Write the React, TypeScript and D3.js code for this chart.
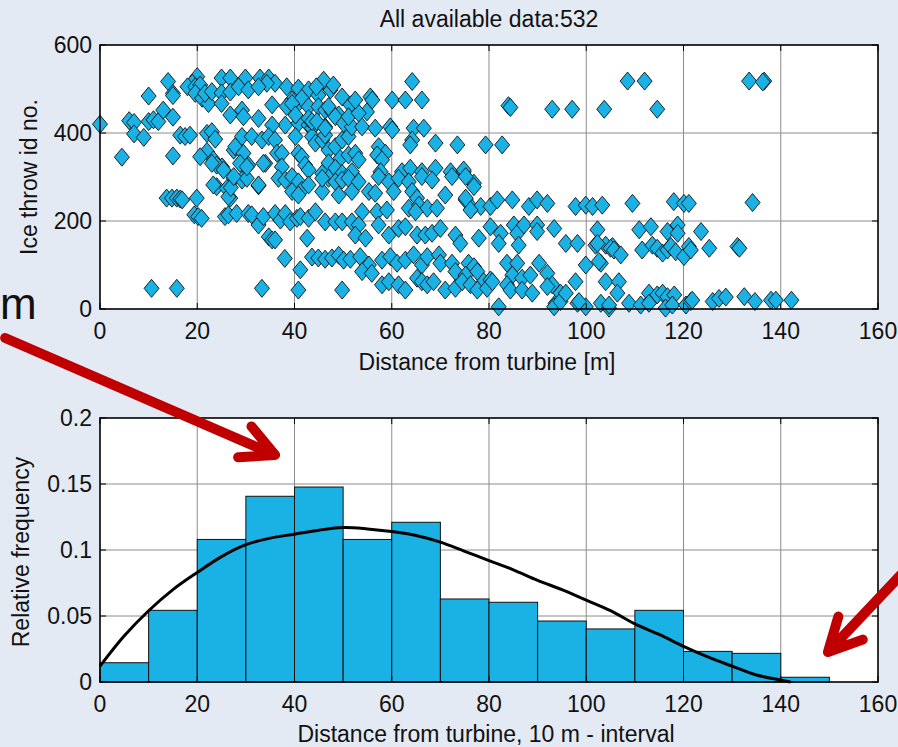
import { useEffect, useRef } from 'react'
import * as d3 from 'd3'

const W = 898
const H = 747
const BG = '#e4eaf3'
const BLUE = '#1ab1e4'
const FONT = '"Liberation Sans", Arial, Helvetica, sans-serif'
const FS = 23

const titleText = 'All available data:532'
const topXLabel = 'Distance from turbine [m]'
const topYLabel = 'Ice throw id no.'
const botXLabel = 'Distance from turbine, 10 m - interval'
const botYLabel = 'Relative frequency'

const distTicks = [0, 20, 40, 60, 80, 100, 120, 140, 160]
const idTicks = [0, 200, 400, 600]
const freqTicks = [0, 0.05, 0.1, 0.15, 0.2]
const freqTickLabels = ['0', '0.05', '0.1', '0.15', '0.2']

// histogram, 10 m bins
const binStarts = [0, 10, 20, 30, 40, 50, 60, 70, 80, 90, 100, 110, 120, 130, 140]
const binFreq = [0.0146, 0.0543, 0.108, 0.1407, 0.1477, 0.108, 0.121, 0.0629, 0.0604, 0.0462, 0.0402, 0.0543, 0.0232, 0.0217, 0.0036]

// fitted curve
const fitX = [0, 5, 10, 15, 20, 25, 30, 35, 40, 45, 50, 55, 60, 65, 70, 75, 80, 85, 90, 95, 100, 105, 110, 115, 120, 125, 130, 135, 140, 142]
const fitY = [0.012, 0.035, 0.054, 0.07, 0.083, 0.095, 0.104, 0.109, 0.112, 0.115, 0.117, 0.116, 0.114, 0.111, 0.106, 0.099, 0.092, 0.085, 0.077, 0.07, 0.062, 0.054, 0.044, 0.036, 0.027, 0.019, 0.012, 0.0053, 0.0015, 0]

// ice throws: [distance m, id no.]
const throwPoints: [number, number][] = [
  [0, 420], [10, 484], [14, 517], [15, 490], [15, 485], [6, 428], [7, 424], [7, 398], [9, 390], [10, 426], [11, 430], [12, 426], [13, 452], [15, 436],
  [16.5, 395], [17.5, 392], [18.5, 395], [4.5, 345], [15, 348],
  [20, 528], [19, 513], [18, 505], [19.6, 505], [20.6, 509], [19.6, 490], [21, 479], [22.3, 467], [21.6, 490], [23, 494],
  [25, 525], [26.8, 525], [29.9, 525], [32.9, 525], [34.7, 525], [36, 513], [34.3, 513],
  [25, 491], [26.8, 493], [28.5, 505], [30.5, 498], [32.6, 505], [25, 467], [26.8, 441], [29.2, 452], [29.5, 437], [32.6, 433], [35.4, 464],
  [38.4, 505], [40.8, 502], [42.9, 498], [44.9, 486], [46.3, 513], [47.4, 498], [46, 520], [48, 509], [44.5, 505],
  [39.5, 475], [40.2, 460], [41.5, 479], [42.9, 460], [44.9, 460], [46.3, 452], [47.7, 448], [49.8, 482], [51.5, 464], [49.1, 441],
  [38.1, 418], [35.4, 418], [40.8, 422], [42.9, 418], [43.6, 411], [46.3, 414],
  [22, 399], [23, 403], [23.7, 386], [22, 358], [23.3, 339], [25.1, 323], [27.5, 361], [27.8, 369], [29.2, 392], [29.5, 354], [30.5, 327],
  [31.2, 392], [33.3, 384], [34, 331], [34.7, 392], [36, 384], [36.4, 354], [37.4, 354], [37.4, 323], [40.2, 392], [40.8, 354], [41.5, 346],
  [42.2, 327], [42.9, 316], [43.6, 392], [44.3, 377], [45.7, 384], [46.3, 395], [47, 361], [48.4, 369], [49.8, 384], [51.1, 392], [49.4, 342],
  [51.1, 350], [47, 332], [48.4, 320], [45.7, 308], [49.8, 308], [51.8, 312],
  [38.4, 460], [39.5, 467], [40.2, 441], [42.9, 433], [43.6, 426], [44.6, 426], [46.3, 411], [47, 460], [48.4, 437], [50.1, 422], [51.8, 414], [51.1, 437],
  [13.7, 252], [14.8, 252], [15.8, 252], [16.5, 250], [16.9, 248], [19.9, 252], [19.4, 214], [20.2, 210], [20.9, 206], [24, 278], [26.1, 274],
  [26.8, 252], [27.5, 297], [29.2, 293], [30.2, 297], [32.6, 280], [25.7, 210], [26.4, 214], [28.1, 217],
  [30.5, 217], [31.2, 214], [32.6, 191], [33.6, 210], [36, 217], [37.1, 202], [38.1, 217], [39.1, 198], [40.5, 206], [41.2, 210], [42.9, 206],
  [44.3, 221], [46.3, 198], [48.4, 198], [49.8, 198], [51.8, 198],
  [34.7, 164], [35.4, 157], [36, 157], [42.6, 161], [38, 115], [41.2, 89], [43.6, 118], [44.9, 116], [46.3, 113], [47.7, 116], [49.1, 122],
  [50.1, 111], [51.5, 113],
  [10.6, 47], [15.8, 47], [33.3, 47], [40.8, 43], [49.8, 43],
  [36.7, 297], [38.1, 293], [39.5, 301], [40.8, 289], [41.5, 270], [42.9, 282], [45.7, 267], [47, 297], [48.4, 289], [49.8, 293], [51.1, 297],
  [51.8, 267], [49.1, 259], [45.7, 297], [39.5, 267], [40.8, 259],
  [23.3, 282], [24, 327], [25.4, 316], [26.4, 255], [26.9, 276], [27.5, 301], [28.8, 331], [30.2, 323], [32.6, 282], [33.6, 331], [20.6, 346], [23, 331],
  [64.2, 517], [60.1, 475], [62.8, 475], [66.2, 475], [55.6, 482], [56, 475], [54.9, 448], [53.2, 445], [53.9, 414], [56.6, 411], [59.7, 414],
  [60.1, 407], [64.5, 411], [66.6, 411], [64.2, 384], [63.8, 373], [69, 377], [73.5, 373], [79.3, 373], [82.7, 373], [84, 462], [84.4, 458],
  [93, 454], [97.1, 454], [103.7, 454], [57.3, 369], [58.7, 354], [57, 350], [58, 339], [52.5, 354], [53.2, 339], [57.7, 312], [62.1, 312],
  [63.8, 320], [66.2, 312], [69, 320], [72.1, 312], [74.8, 312], [52.5, 475], [74.8, 316], [76.9, 286],
  [108.5, 518], [112, 518], [114.6, 454], [133.5, 518], [136.6, 518], [136.3, 516],
  [57.3, 301], [59.4, 289], [61.4, 297], [63.5, 289], [66.2, 301], [68.3, 293], [72.4, 301], [75.2, 301], [76.9, 278], [53.2, 289], [55.3, 267],
  [56.6, 263], [60.4, 267], [64.2, 267], [65.2, 252], [71, 259], [75.2, 248], [76.5, 229], [78.3, 233], [80.3, 233], [81.7, 248], [84.8, 248],
  [88.2, 233], [89.9, 248], [92, 240], [97.8, 233], [99.9, 236], [101.3, 233], [103.3, 236], [53.9, 221], [57, 221], [59, 225], [63.5, 229],
  [65.6, 236], [67.3, 229], [69.3, 229], [64.9, 221], [75.2, 252], [76.2, 225],
  [53.2, 191], [57.3, 191], [59.4, 168], [61.4, 183], [62.8, 187], [65.2, 168], [66.9, 168], [68.3, 172], [70, 183], [73.1, 168], [74.1, 149],
  [77.9, 161], [80.3, 187], [82.4, 172], [82, 149], [85.1, 191], [85.8, 172], [86.1, 145], [87.2, 191], [89.9, 191], [89.9, 176], [93.4, 183],
  [95.8, 149], [98.2, 149], [102.3, 180], [101.9, 145], [104, 145], [105.4, 142], [52.5, 168], [54.6, 161],
  [53.5, 119], [55.3, 100], [58, 111], [59.7, 119], [61.1, 104], [62.8, 111], [64.5, 123], [66.2, 100], [67.3, 119], [69.7, 123], [70, 104],
  [72.4, 104], [73.1, 85], [75.8, 104], [76.9, 96], [75.2, 77], [77.6, 85], [78.9, 62], [80.3, 66], [83.7, 104], [85.8, 104], [84.8, 77],
  [86.8, 70], [88.5, 77], [90.3, 104], [92, 81], [93, 55], [97.8, 62], [99.9, 100], [103, 104], [104, 62],
  [53.9, 85], [55.9, 81], [58, 55], [59.4, 62], [61.4, 55], [62.8, 43], [65.2, 70], [66.2, 62], [67.3, 55], [68.6, 62], [71, 43], [73.1, 47],
  [74.5, 62], [76.2, 55], [77.6, 43], [79.6, 47], [80.7, 62], [82, 5], [83.7, 55], [84.4, 43], [86.8, 43], [88.9, 36], [92, 51], [93.7, 13],
  [94.7, 36], [98.2, 13], [99.9, 5], [103, 13], [104.7, 2], [93.4, 5], [94.7, 17], [95.8, 36], [98.5, 17], [104.7, 9],
  [105, 138], [105.7, 134], [106.7, 62], [102.6, 108], [102.3, 149], [106.4, 36], [108.8, 13], [113.3, 20], [107.1, 123],
  [109.5, 240], [118, 244], [120.1, 240], [121.1, 240], [134.2, 242], [110.9, 180], [113.3, 187], [116.7, 176], [118.8, 191], [118.8, 172],
  [123.6, 176], [111.5, 134], [113.6, 145], [114.6, 138], [115.7, 127], [116.7, 134], [117.4, 142], [118.4, 130], [120.1, 119], [121.1, 142],
  [121.5, 134], [125.3, 138], [131.1, 142], [131.5, 138],
  [112.9, 36], [114.6, 32], [115.7, 36], [116.7, 28], [118.1, 32], [116.3, 2], [117.7, 9], [120.5, 9], [121.5, 17], [121.8, 20], [126, 17],
  [127.3, 24], [128.7, 27], [132.5, 28], [134.7, 17], [138, 20], [139, 20], [142.2, 20], [111.2, 9], [112.9, 13],
]

// annotation arrows, in the lower plot's data units: [fromX, fromY, tipX, tipY]
const arrowLines: [number, number, number, number][] = [
  [-19.5, 0.2606, 36, 0.172],
  [166.6, 0.0886, 149.7, 0.0227],
]

export default function App() {
  const svgRef = useRef<SVGSVGElement>(null)

  useEffect(() => {
    if (!svgRef.current) return
    const svg = d3.select(svgRef.current)
    svg.selectAll('*').remove()

    svg.append('rect').attr('width', W).attr('height', H).attr('fill', BG)

    const xTop = d3.scaleLinear().domain([0, 160]).range([100, 878])
    const yTop = d3.scaleLinear().domain([0, 600]).range([309, 45])
    const xBot = d3.scaleLinear().domain([0, 160]).range([100, 878])
    const yBot = d3.scaleLinear().domain([0, 0.2]).range([682, 418])

    const plotBack = (x: d3.ScaleLinear<number, number>, y: d3.ScaleLinear<number, number>, xt: number[], yt: number[]) => {
      const [x0, x1] = x.range()
      const [y0, y1] = y.range()
      const g = svg.append('g')
      g.append('rect').attr('x', x0).attr('y', y1).attr('width', x1 - x0).attr('height', y0 - y1).attr('fill', 'white')
      g.selectAll('line.vg')
        .data(xt.slice(1, -1))
        .join('line')
        .attr('x1', (d) => x(d))
        .attr('x2', (d) => x(d))
        .attr('y1', y1)
        .attr('y2', y0)
        .attr('stroke', '#8c8c8c')
        .attr('stroke-width', 1)
      g.selectAll('line.hg')
        .data(yt.slice(1, -1))
        .join('line')
        .attr('x1', x0)
        .attr('x2', x1)
        .attr('y1', (d) => y(d))
        .attr('y2', (d) => y(d))
        .attr('stroke', '#8c8c8c')
        .attr('stroke-width', 1)
    }

    const plotFrame = (
      x: d3.ScaleLinear<number, number>,
      y: d3.ScaleLinear<number, number>,
      xt: number[],
      yt: number[],
      yLabels: string[],
      xLabelY: number
    ) => {
      const [x0, x1] = x.range()
      const [y0, y1] = y.range()
      const g = svg.append('g')
      const tk = 6
      xt.forEach((d) => {
        g.append('line').attr('x1', x(d)).attr('x2', x(d)).attr('y1', y0).attr('y2', y0 - tk).attr('stroke', 'black')
        g.append('line').attr('x1', x(d)).attr('x2', x(d)).attr('y1', y1).attr('y2', y1 + tk).attr('stroke', 'black')
        g.append('text')
          .attr('x', x(d))
          .attr('y', xLabelY)
          .attr('text-anchor', 'middle')
          .attr('font-family', FONT)
          .attr('font-size', FS)
          .attr('fill', '#111')
          .text(String(d))
      })
      yt.forEach((d, i) => {
        g.append('line').attr('x1', x0).attr('x2', x0 + tk).attr('y1', y(d)).attr('y2', y(d)).attr('stroke', 'black')
        g.append('line').attr('x1', x1).attr('x2', x1 - tk).attr('y1', y(d)).attr('y2', y(d)).attr('stroke', 'black')
        g.append('text')
          .attr('x', x0 - 8)
          .attr('y', y(d))
          .attr('dy', '0.36em')
          .attr('text-anchor', 'end')
          .attr('font-family', FONT)
          .attr('font-size', FS)
          .attr('fill', '#111')
          .text(yLabels[i])
      })
      g.append('rect')
        .attr('x', x0)
        .attr('y', y1)
        .attr('width', x1 - x0)
        .attr('height', y0 - y1)
        .attr('fill', 'none')
        .attr('stroke', 'black')
        .attr('stroke-width', 1.6)
    }

    const label = (text: string, x: number, y: number, rotate = false) => {
      svg
        .append('text')
        .attr('transform', rotate ? `translate(${x},${y}) rotate(-90)` : `translate(${x},${y})`)
        .attr('text-anchor', 'middle')
        .attr('font-family', FONT)
        .attr('font-size', FS)
        .attr('fill', '#111')
        .text(text)
    }

    // top: scatter
    plotBack(xTop, yTop, distTicks, idTicks)
    const diamond = 'M0,-9L7.5,0L0,9L-7.5,0Z'
    svg
      .append('g')
      .selectAll('path')
      .data(throwPoints)
      .join('path')
      .attr('transform', (d) => `translate(${xTop(d[0])},${yTop(d[1])})`)
      .attr('d', diamond)
      .attr('fill', BLUE)
      .attr('stroke', '#111')
      .attr('stroke-width', 0.9)
    plotFrame(xTop, yTop, distTicks, idTicks, idTicks.map(String), 339)

    // bottom: histogram + fit
    plotBack(xBot, yBot, distTicks, freqTicks)
    svg
      .append('g')
      .selectAll('rect')
      .data(binStarts)
      .join('rect')
      .attr('x', (d) => xBot(d))
      .attr('width', (d) => xBot(d + 10) - xBot(d))
      .attr('y', (_, i) => yBot(binFreq[i]))
      .attr('height', (_, i) => yBot(0) - yBot(binFreq[i]))
      .attr('fill', BLUE)
      .attr('stroke', '#111')
      .attr('stroke-width', 1)

    const fitLine = d3
      .line<number>()
      .x((d) => xBot(d))
      .y((_, i) => yBot(fitY[i]))
      .curve(d3.curveCatmullRom.alpha(0.5))
    svg
      .append('path')
      .datum(fitX)
      .attr('d', fitLine)
      .attr('fill', 'none')
      .attr('stroke', 'black')
      .attr('stroke-width', 3)
    plotFrame(xBot, yBot, distTicks, freqTicks, freqTickLabels, 712)

    // labels
    label(titleText, 489, 27)
    label(topXLabel, 487, 370)
    label(topYLabel, 37, 177, true)
    label(botXLabel, 486, 742)
    label(botYLabel, 29, 552, true)

    svg
      .append('text')
      .attr('x', 0)
      .attr('y', 319)
      .attr('font-family', FONT)
      .attr('font-size', 44)
      .attr('fill', '#111')
      .text('m')

    // red arrows
    const headLen = 37
    const headAng = (27 * Math.PI) / 180
    arrowLines.forEach(([fx, fy, tx, ty]) => {
      const x0 = xBot(fx)
      const y0 = yBot(fy)
      const x1 = xBot(tx)
      const y1 = yBot(ty)
      const back = Math.atan2(y0 - y1, x0 - x1)
      const a1 = [x1 + headLen * Math.cos(back + headAng), y1 + headLen * Math.sin(back + headAng)]
      const a2 = [x1 + headLen * Math.cos(back - headAng), y1 + headLen * Math.sin(back - headAng)]
      const p = d3.path()
      p.moveTo(x0, y0)
      p.lineTo(x1, y1)
      p.moveTo(a1[0], a1[1])
      p.lineTo(x1, y1)
      p.lineTo(a2[0], a2[1])
      svg
        .append('path')
        .attr('d', p.toString())
        .attr('fill', 'none')
        .attr('stroke', '#c00000')
        .attr('stroke-width', 10)
        .attr('stroke-linecap', 'round')
        .attr('stroke-linejoin', 'round')
    })
  }, [])

  return (
    <div style={{ position: 'fixed', left: 0, top: 0, width: W, height: H, overflow: 'hidden' }}>
      <svg ref={svgRef} width={W} height={H} style={{ display: 'block' }} />
    </div>
  )
}
